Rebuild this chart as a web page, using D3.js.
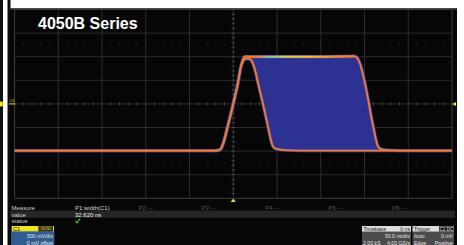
<!DOCTYPE html>
<html>
<head>
<meta charset="utf-8">
<script src="https://cdn.jsdelivr.net/npm/d3@7"></script>
<style>
html, body { margin: 0; padding: 0; background: #fff; }
svg { display: block; }
text { font-family: "Liberation Sans", Arial, sans-serif; }
</style>
</head>
<body>
<svg id="scope"></svg>
<script>
// waveform (time in ns, level in V)
const riseT = [-250, -19.7, -16.3, -14.0, -11.7, -6.0, 0, 5.4, 8.9];
const riseV = [-0.99, -0.99, -0.98, -0.95, -0.85, -0.45, 0, 0.45, 0.80];
// narrowest pulse
const shortT = [11.1, 13.4, 16.9, 19.0, 21.4, 24.9, 29.4, 34.0, 38.6, 42.0, 44.3, 46.6, 51.1, 59.1, 76.3, 250];
const shortV = [0.90, 0.95, 0.96, 0.95, 0.90, 0.72, 0.36, 0, -0.38, -0.68, -0.85, -0.93, -0.96, -0.98, -0.99, -0.99];
// widest pulse
const longT = [11.1, 12.8, 60, 100, 138, 141.4, 144.9, 148.3, 151.7, 154.6, 157.4, 160.9, 163.1, 165.4, 168.9, 174.6, 190.6, 250];
const longV = [0.95, 1.0, 1.0, 1.0, 1.01, 0.98, 0.85, 0.62, 0.33, 0.05, -0.24, -0.56, -0.76, -0.90, -0.96, -0.98, -0.99, -0.99];

// readouts
const measureCols = ["P1:width(C1)", "P2:---", "P3:---", "P4:---", "P5:---", "P6:---"];
const measureVals = ["32.620 ns", "", "", "", "", ""];
const rowLabels = ["Measure", "value", "status"];
const channelInfo = ["C1", "DC50", "500 mV/div", "0 mV offset"];
const timebaseInfo = ["Timebase", "0 ns", "50.0 ns/div", "2.00 kS", "4.00 GS/s"];
const triggerInfo = ["Trigger", "C1 DC", "Auto", "0 mV", "Edge", "Positive"];

const W = 464, H = 245;
const svg = d3.select('#scope').attr('width', W).attr('height', H);

const x = d3.scaleLinear().domain([-250, 250]).range([14.5, 452]);
const y = d3.scaleLinear().domain([-2, 2]).range([198.3, 9.5]);

const yellow = '#f2e21a', orange = '#f27a26', blue = '#2c3192';

// frame
svg.append('rect').attr('width', W).attr('height', H).attr('fill', '#fff');
svg.append('rect').attr('x', 0).attr('width', 3).attr('height', H).attr('fill', '#111');
svg.append('rect').attr('x', 7.5).attr('width', 3).attr('height', H).attr('fill', '#0c0c0c');
svg.append('rect').attr('x', 10).attr('y', 8).attr('width', 447).attr('height', H - 8).attr('fill', '#060606');
svg.append('rect').attr('x', 10).attr('y', 8).attr('width', 447).attr('height', 1.5).attr('fill', '#4a4a4a');

// grid
const g = svg.append('g');
g.selectAll('.vl').data(d3.range(-250, 251, 50)).join('line')
    .attr('x1', d => x(d)).attr('x2', d => x(d))
    .attr('y1', y(2)).attr('y2', y(-2))
    .attr('stroke', d => Math.abs(d) === 250 ? '#3c3c3c' : '#2c2c2c').attr('stroke-width', 1);
g.selectAll('.hl').data(d3.range(-2, 2.01, 0.5)).join('line')
    .attr('x1', x(-250)).attr('x2', x(250))
    .attr('y1', d => y(d)).attr('y2', d => y(d))
    .attr('stroke', d => Math.abs(d) === 2 ? '#3c3c3c' : '#2c2c2c').attr('stroke-width', 1);
// centre axis ticks
g.selectAll('.tx').data(d3.range(-240, 250, 10)).join('line')
    .attr('x1', d => x(d)).attr('x2', d => x(d))
    .attr('y1', y(0) - 1.5).attr('y2', y(0) + 1.5)
    .attr('stroke', '#4a4a4a');
g.selectAll('.ty').data(d3.range(-1.9, 1.95, 0.1)).join('line')
    .attr('x1', x(0) - 1.5).attr('x2', x(0) + 1.5)
    .attr('y1', d => y(d)).attr('y2', d => y(d))
    .attr('stroke', '#4a4a4a');
// dotted rows
[-1.25, 1.25].forEach(v => {
    g.selectAll(null).data(d3.range(-240, 250, 10)).join('rect')
        .attr('x', d => x(d) - 0.5).attr('y', y(v) - 0.5)
        .attr('width', 1).attr('height', 1).attr('fill', '#4a4a4a');
});

// title
svg.append('text').attr('x', 38).attr('y', 28.5)
    .attr('font-size', 16).attr('font-weight', 'bold').attr('fill', '#fff')
    .text('4050B Series');

// traces
const pts = (ts, vs) => ts.map((t, i) => [t, vs[i]]);
const rise = pts(riseT, riseV);
const shortP = rise.concat(pts(shortT, shortV));
const longP = rise.concat(pts(longT, longV));
const line = d3.line().x(d => x(d[0])).y(d => y(d[1])).curve(d3.curveMonotoneX);

// persistence fill between narrowest and widest pulse
const fillLine = d3.line().x(d => x(d[0])).y(d => y(d[1]));
const env = pts(longT, longV).filter(d => d[0] <= 180)
    .concat(pts(shortT, shortV).filter(d => d[0] <= 180).reverse());
svg.append('path').attr('d', fillLine(env) + 'Z').attr('fill', blue);

[shortP, longP].forEach(p => {
    svg.append('path').attr('d', line(p)).attr('fill', 'none')
        .attr('stroke', '#3441b4').attr('stroke-width', 3.4).attr('stroke-linejoin', 'round');
});
[shortP, longP].forEach(p => {
    svg.append('path').attr('d', line(p)).attr('fill', 'none')
        .attr('stroke', orange).attr('stroke-width', 1.9).attr('stroke-linejoin', 'round');
});

// colour-graded top edge
const grad = svg.append('defs').append('linearGradient').attr('id', 'topgrad')
    .attr('gradientUnits', 'userSpaceOnUse')
    .attr('x1', x(25)).attr('x2', x(138)).attr('y1', 0).attr('y2', 0);
[[0, orange], [0.15, '#7cc8b0'], [0.32, '#c8d84a'], [0.55, '#f0c030'], [0.8, '#f28a2a'], [1, orange]]
    .forEach(([o, c]) => grad.append('stop').attr('offset', o).attr('stop-color', c));
svg.append('path')
    .attr('d', line(pts(longT, longV).filter(d => d[0] >= 12.8 && d[0] <= 138)))
    .attr('fill', 'none').attr('stroke', 'url(#topgrad)').attr('stroke-width', 1.9);

// markers
svg.append('path').attr('d', `M0,${y(0) - 2.5}H2L4,${y(0)}L2,${y(0) + 2.5}H0Z`).attr('fill', yellow);
svg.append('line').attr('x1', 9).attr('x2', x(-250) + 1).attr('y1', y(0)).attr('y2', y(0))
    .attr('stroke', yellow).attr('stroke-width', 1);
svg.append('text').attr('x', 10).attr('y', y(0) - 2).attr('font-size', 3.5).attr('fill', yellow).text('C1');
svg.append('path').attr('d', `M${x(250) + 4},${y(0) - 2}L${x(250)},${y(0)}L${x(250) + 4},${y(0) + 2}Z`).attr('fill', yellow);
svg.append('path').attr('d', `M${x(0) - 2.5},202H${x(0) + 2.5}L${x(0)},198.5Z`).attr('fill', yellow);

// measurement table
const colX = d3.range(measureCols.length).map(i => 75 + i * 63.4);
svg.append('rect').attr('x', 10).attr('y', 211.3).attr('width', 445).attr('height', 6.5).attr('fill', '#262626');
svg.append('line').attr('x1', 10).attr('x2', 455).attr('y1', 211).attr('y2', 211).attr('stroke', '#444').attr('stroke-width', 0.5);
const rowY = [210, 216.6, 223.2];
svg.selectAll('.rl').data(rowLabels).join('text')
    .attr('x', 11.5).attr('y', (d, i) => rowY[i])
    .attr('font-size', 6).attr('fill', '#cfcfcf').text(d => d);
svg.selectAll('.mc').data(measureCols).join('text')
    .attr('x', (d, i) => colX[i]).attr('y', rowY[0])
    .attr('font-size', 6).attr('fill', (d, i) => i === 0 ? '#d8d8d8' : '#5a5a5a').text(d => d);
svg.selectAll('.mv').data(measureVals).join('text')
    .attr('x', (d, i) => colX[i]).attr('y', rowY[1])
    .attr('font-size', 6).attr('fill', '#f0f0f0').text(d => d);
svg.append('path').attr('d', `M${colX[0] + 0.5},221 L${colX[0] + 2},222.8 L${colX[0] + 5},218.6`)
    .attr('fill', 'none').attr('stroke', '#3cc040').attr('stroke-width', 1.2);

// channel box
svg.append('rect').attr('x', 11.7).attr('y', 226).attr('width', 42.3).attr('height', 5.8).attr('fill', yellow);
svg.append('rect').attr('x', 11.7).attr('y', 231.8).attr('width', 42.3).attr('height', 14).attr('fill', '#2f5d90')
    .attr('stroke', '#4c7ab0').attr('stroke-width', 0.6);
svg.append('text').attr('x', 13).attr('y', 230.9).attr('font-size', 5.5).attr('fill', '#111').text(channelInfo[0]);
svg.append('rect').attr('x', 38.8).attr('y', 226.7).attr('width', 14).attr('height', 4.4).attr('fill', '#333').attr('stroke', '#111').attr('stroke-width', 0.5);
svg.append('text').attr('x', 45.8).attr('y', 230.4).attr('text-anchor', 'middle').attr('font-size', 3.6).attr('fill', yellow).text(channelInfo[1]);
svg.append('text').attr('x', 53).attr('y', 238).attr('text-anchor', 'end').attr('font-size', 5.2).attr('fill', '#e8e8e8').text(channelInfo[2]);
svg.append('text').attr('x', 53).attr('y', 244.6).attr('text-anchor', 'end').attr('font-size', 5.2).attr('fill', '#e8e8e8').text(channelInfo[3]);

// timebase and trigger boxes
function infoBox(x0, w, info, tag) {
    svg.append('rect').attr('x', x0).attr('y', 226).attr('width', w).attr('height', 5.8).attr('fill', '#dcdcdc');
    svg.append('rect').attr('x', x0).attr('y', 231.8).attr('width', w).attr('height', 14).attr('fill', '#4b4b4b');
    svg.append('text').attr('x', x0 + 1.5).attr('y', 230.9).attr('font-size', 5.2).attr('fill', '#222').text(info[0]);
    if (tag) {
        svg.append('rect').attr('x', x0 + w - 15).attr('y', 226.4).attr('width', 14.6).attr('height', 5).attr('fill', '#151515');
        svg.append('text').attr('x', x0 + w - 7.7).attr('y', 230.6).attr('text-anchor', 'middle')
            .attr('font-size', 4.6).attr('fill', '#eee').text(info[1]);
    } else {
        svg.append('text').attr('x', x0 + w - 1).attr('y', 230.9).attr('text-anchor', 'end')
            .attr('font-size', 5.2).attr('fill', '#222').text(info[1]);
    }
}
infoBox(362, 49, timebaseInfo, false);
infoBox(412.5, 41.5, triggerInfo, true);
const body = (xx, yy, s, anchor) => svg.append('text').attr('x', xx).attr('y', yy)
    .attr('text-anchor', anchor).attr('font-size', 5.2).attr('fill', '#e4e4e4').text(s);
body(410, 238, timebaseInfo[2], 'end');
body(363, 244.6, timebaseInfo[3], 'start');
body(410, 244.6, timebaseInfo[4], 'end');
body(414, 238, triggerInfo[2], 'start');
body(453, 238, triggerInfo[3], 'end');
body(414, 244.6, triggerInfo[4], 'start');
body(453, 244.6, triggerInfo[5], 'end');
</script>
</body>
</html>
